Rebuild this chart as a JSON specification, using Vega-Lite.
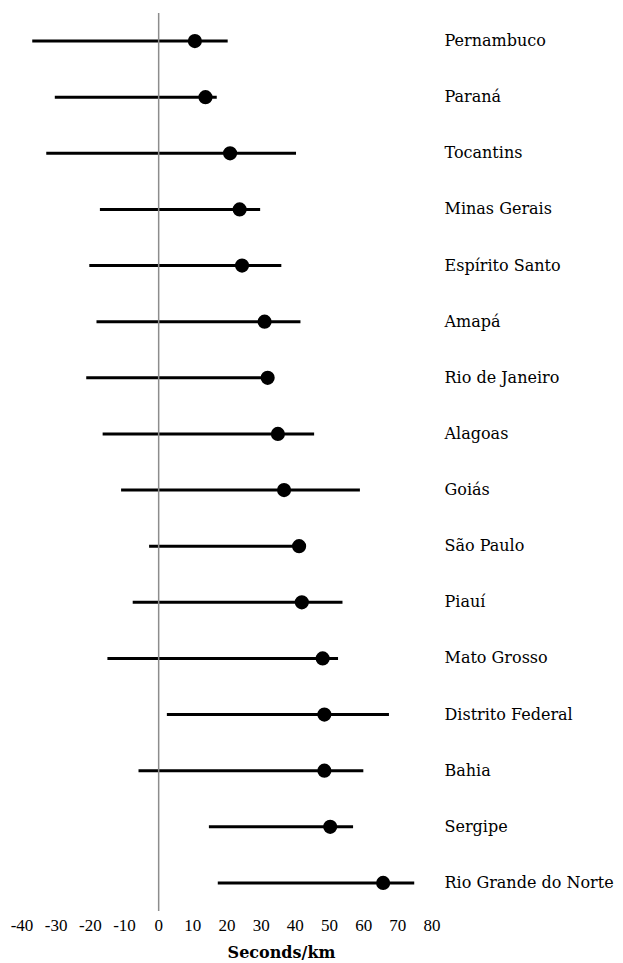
{
  "$schema": "https://vega.github.io/schema/vega-lite/v6.json",
  "padding": {"left": 10, "top": 12, "right": 0, "bottom": 0},
  "background": "white",
  "spacing": 0,
  "config": {
    "view": {"stroke": null},
    "axisY": {
      "labelFont": "DejaVu Serif", "labelFontSize": 16, "labelColor": "black", "labelPadding": 12,
      "domain": false, "ticks": false, "grid": false
    }
  },
  "datasets": {
    "states": [
      {"state": "Pernambuco", "lo": -37, "mid": 10.6, "hi": 20.2},
      {"state": "Paraná", "lo": -30.4, "mid": 13.7, "hi": 17},
      {"state": "Tocantins", "lo": -32.9, "mid": 20.9, "hi": 40.2},
      {"state": "Minas Gerais", "lo": -17.2, "mid": 23.7, "hi": 29.7},
      {"state": "Espírito Santo", "lo": -20.3, "mid": 24.4, "hi": 35.9},
      {"state": "Amapá", "lo": -18.2, "mid": 31, "hi": 41.5},
      {"state": "Rio de Janeiro", "lo": -21.2, "mid": 31.9, "hi": 33},
      {"state": "Alagoas", "lo": -16.4, "mid": 34.9, "hi": 45.5},
      {"state": "Goiás", "lo": -11, "mid": 36.7, "hi": 58.9},
      {"state": "São Paulo", "lo": -2.8, "mid": 41.1, "hi": 42},
      {"state": "Piauí", "lo": -7.6, "mid": 41.9, "hi": 53.8},
      {"state": "Mato Grosso", "lo": -15, "mid": 48, "hi": 52.5},
      {"state": "Distrito Federal", "lo": 2.4, "mid": 48.5, "hi": 67.4},
      {"state": "Bahia", "lo": -5.9, "mid": 48.5, "hi": 59.9},
      {"state": "Sergipe", "lo": 14.7, "mid": 50.2, "hi": 56.9},
      {"state": "Rio Grande do Norte", "lo": 17.3, "mid": 65.7, "hi": 74.8}
    ],
    "ticks": [
      {"v": -40, "lab": "-40"}, {"v": -30, "lab": "-30"}, {"v": -20, "lab": "-20"},
      {"v": -10, "lab": "-10"}, {"v": 0, "lab": "0"}, {"v": 10, "lab": "10"},
      {"v": 20, "lab": "20"}, {"v": 30, "lab": "30"}, {"v": 40, "lab": "40"},
      {"v": 50, "lab": "50"}, {"v": 60, "lab": "60"}, {"v": 70, "lab": "70"},
      {"v": 80, "lab": "80"}
    ]
  },
  "vconcat": [
    {
      "width": 410,
      "height": 898,
      "data": {"name": "states"},
      "layer": [
        {
          "mark": {"type": "rule", "color": "black", "strokeWidth": 3},
          "encoding": {
            "y": {
              "field": "state", "type": "nominal", "sort": null,
              "scale": {"type": "band", "paddingInner": 0, "paddingOuter": 0},
              "axis": {"orient": "right", "title": null, "labelAlign": "left"}
            },
            "x": {
              "field": "lo", "type": "quantitative",
              "scale": {"domain": [-40, 80], "nice": false, "zero": false},
              "axis": null
            },
            "x2": {"field": "hi"}
          }
        },
        {
          "transform": [{"filter": "datum.state == 'Pernambuco'"}],
          "mark": {"type": "rule", "color": "#8c8c8c", "strokeWidth": 1.5},
          "encoding": {
            "x": {"datum": 0, "type": "quantitative"}
          }
        },
        {
          "mark": {"type": "point", "filled": true, "color": "black", "opacity": 1, "size": 200},
          "encoding": {
            "y": {"field": "state", "type": "nominal", "sort": null},
            "x": {"field": "mid", "type": "quantitative"}
          }
        }
      ]
    },
    {
      "width": 410,
      "height": 28,
      "data": {"name": "ticks"},
      "mark": {"type": "text", "font": "Liberation Serif", "fontSize": 17, "color": "black", "align": "center", "baseline": "middle"},
      "encoding": {
        "x": {
          "field": "v", "type": "quantitative",
          "scale": {"domain": [-40, 80], "nice": false, "zero": false},
          "axis": {
            "labels": false, "ticks": false, "domain": false, "grid": false,
            "title": "Seconds/km", "titleX": 259,
            "titleFont": "DejaVu Serif", "titleFontSize": 16, "titleFontWeight": "bold", "titleColor": "black", "titlePadding": 4
          }
        },
        "text": {"field": "lab"}
      }
    }
  ]
}
